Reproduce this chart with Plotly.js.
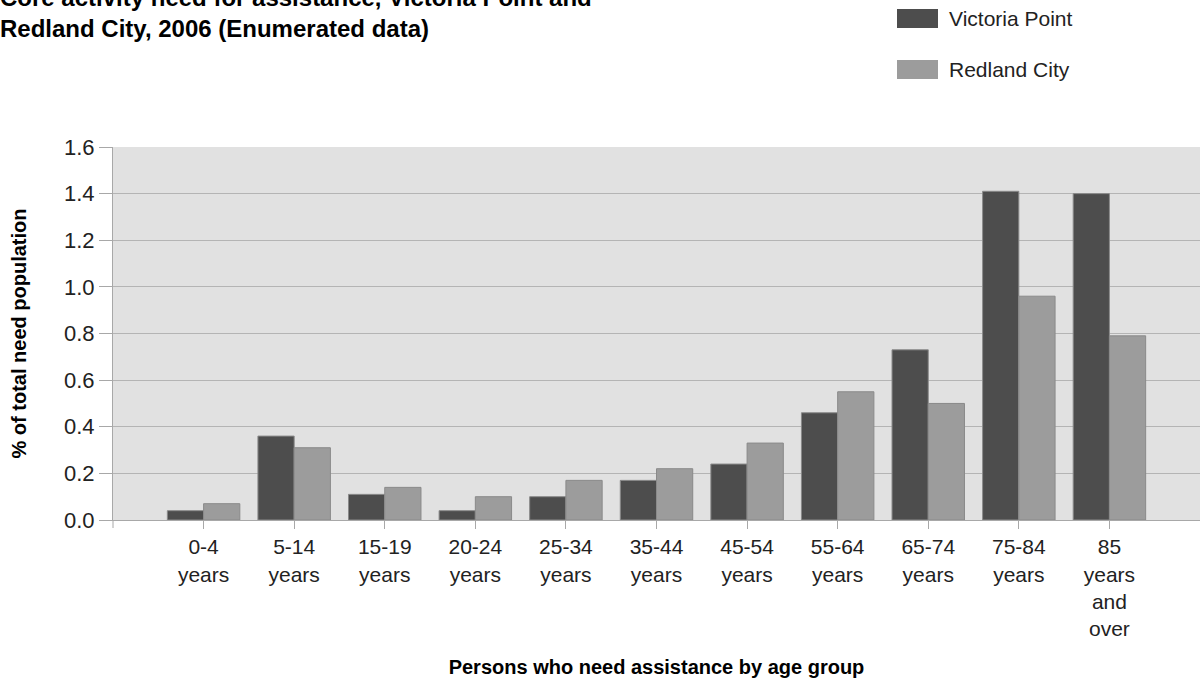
<!DOCTYPE html>
<html>
<head>
<meta charset="utf-8">
<script src="https://cdn.plot.ly/plotly-3.0.1.min.js"></script>
<style>
  html, body { margin: 0; padding: 0; background: #ffffff; }
  #chart { width: 1200px; height: 682px; }
</style>
</head>
<body>
<div id="chart"></div>
<script>
// ---- data ----
const ageGroups = [
  "0-4<br>years", "5-14<br>years", "15-19<br>years", "20-24<br>years",
  "25-34<br>years", "35-44<br>years", "45-54<br>years", "55-64<br>years",
  "65-74<br>years", "75-84<br>years", "85<br>years<br>and<br>over"
];
const victoriaPoint = [0.04, 0.36, 0.11, 0.04, 0.10, 0.17, 0.24, 0.46, 0.73, 1.41, 1.40];
const redlandCity   = [0.07, 0.31, 0.14, 0.10, 0.17, 0.22, 0.33, 0.55, 0.50, 0.96, 0.79];
const seriesNames = ["Victoria Point", "Redland City"];
const yTicks = [0, 0.2, 0.4, 0.6, 0.8, 1.0, 1.2, 1.4, 1.6];
const yTickText = ["0.0", "0.2", "0.4", "0.6", "0.8", "1.0", "1.2", "1.4", "1.6"];
const titleText = "Core activity need for assistance, Victoria Point and<br>Redland City, 2006 (Enumerated data)";
const xTitle = "Persons who need assistance by age group";
const yTitle = "% of total need population";

// ---- style ----
const colors = ["#4d4d4d", "#9c9c9c"];
const W = 1200, H = 682;
const M = { l: 113, r: 0, t: 147, b: 162 };
const plotW = W - M.l - M.r, plotH = H - M.t - M.b;
const px = x => (x - M.l) / plotW;           // pixel -> paper x
const py = y => (H - M.b - y) / plotH;        // pixel -> paper y
const FONT = "Liberation Sans, Arial, sans-serif";

const traces = [victoriaPoint, redlandCity].map((vals, i) => ({
  type: "bar",
  name: seriesNames[i],
  x: ageGroups,
  y: vals,
  marker: { color: colors[i], line: { color: "#8a8a8a", width: 1 } },
  showlegend: false,
  hoverinfo: "x+y+name"
}));

// legend drawn as wide swatches like the reference
const shapes = [];
const annotations = [];
seriesNames.forEach((n, i) => {
  const top = 9 + i * 51;
  shapes.push({
    type: "rect", xref: "paper", yref: "paper",
    x0: px(897), x1: px(938), y0: py(top), y1: py(top + 19),
    fillcolor: colors[i], line: { width: 0 }
  });
  annotations.push({
    xref: "paper", yref: "paper", x: px(947), y: py(top + 9.5),
    xanchor: "left", yanchor: "middle", showarrow: false,
    text: n, font: { family: FONT, size: 21, color: "#222222" }
  });
});
// corner tick below the y axis
shapes.push({
  type: "line", xref: "paper", yref: "paper",
  x0: 0, x1: 0, y0: 0, y1: py(528),
  line: { color: "#a8a8a8", width: 1 }
});

const layout = {
  width: W, height: H,
  margin: M,
  paper_bgcolor: "#ffffff",
  plot_bgcolor: "#e1e1e1",
  barmode: "group",
  bargap: 0.2,
  bargroupgap: 0,
  font: { family: FONT, color: "#222222" },
  title: {
    text: titleText,
    font: { family: FONT, size: 24, color: "#000000", weight: "bold" },
    xref: "container", yref: "container",
    x: 0, xanchor: "left",
    y: 1 - 6 / H, yanchor: "middle",
    pad: { l: 0, r: 0, t: 0, b: 0 }
  },
  xaxis: {
    type: "category",
    range: [-1, 11],
    showgrid: false,
    zeroline: false,
    showline: true, linecolor: "#a8a8a8", linewidth: 1,
    ticks: "outside", ticklen: 8, tickcolor: "#a8a8a8",
    tickfont: { family: FONT, size: 21, color: "#222222" },
    tickangle: 0,
    title: { text: xTitle, font: { family: FONT, size: 20, color: "#000000", weight: "bold" }, standoff: 20 },
    automargin: false,
    fixedrange: true
  },
  yaxis: {
    range: [0, 1.6],
    tickvals: yTicks, ticktext: yTickText,
    showgrid: true, gridcolor: "#b4b4b4", gridwidth: 1,
    zeroline: false,
    showline: true, linecolor: "#a8a8a8", linewidth: 1,
    ticks: "outside", ticklen: 13, tickcolor: "#a8a8a8",
    tickfont: { family: FONT, size: 22, color: "#222222" },
    title: { text: yTitle, font: { family: FONT, size: 20, color: "#000000", weight: "bold" }, standoff: 32 },
    automargin: false,
    fixedrange: true
  },
  shapes: shapes,
  annotations: annotations
};

Plotly.newPlot("chart", traces, layout, { displayModeBar: false, staticPlot: true });
</script>
</body>
</html>
